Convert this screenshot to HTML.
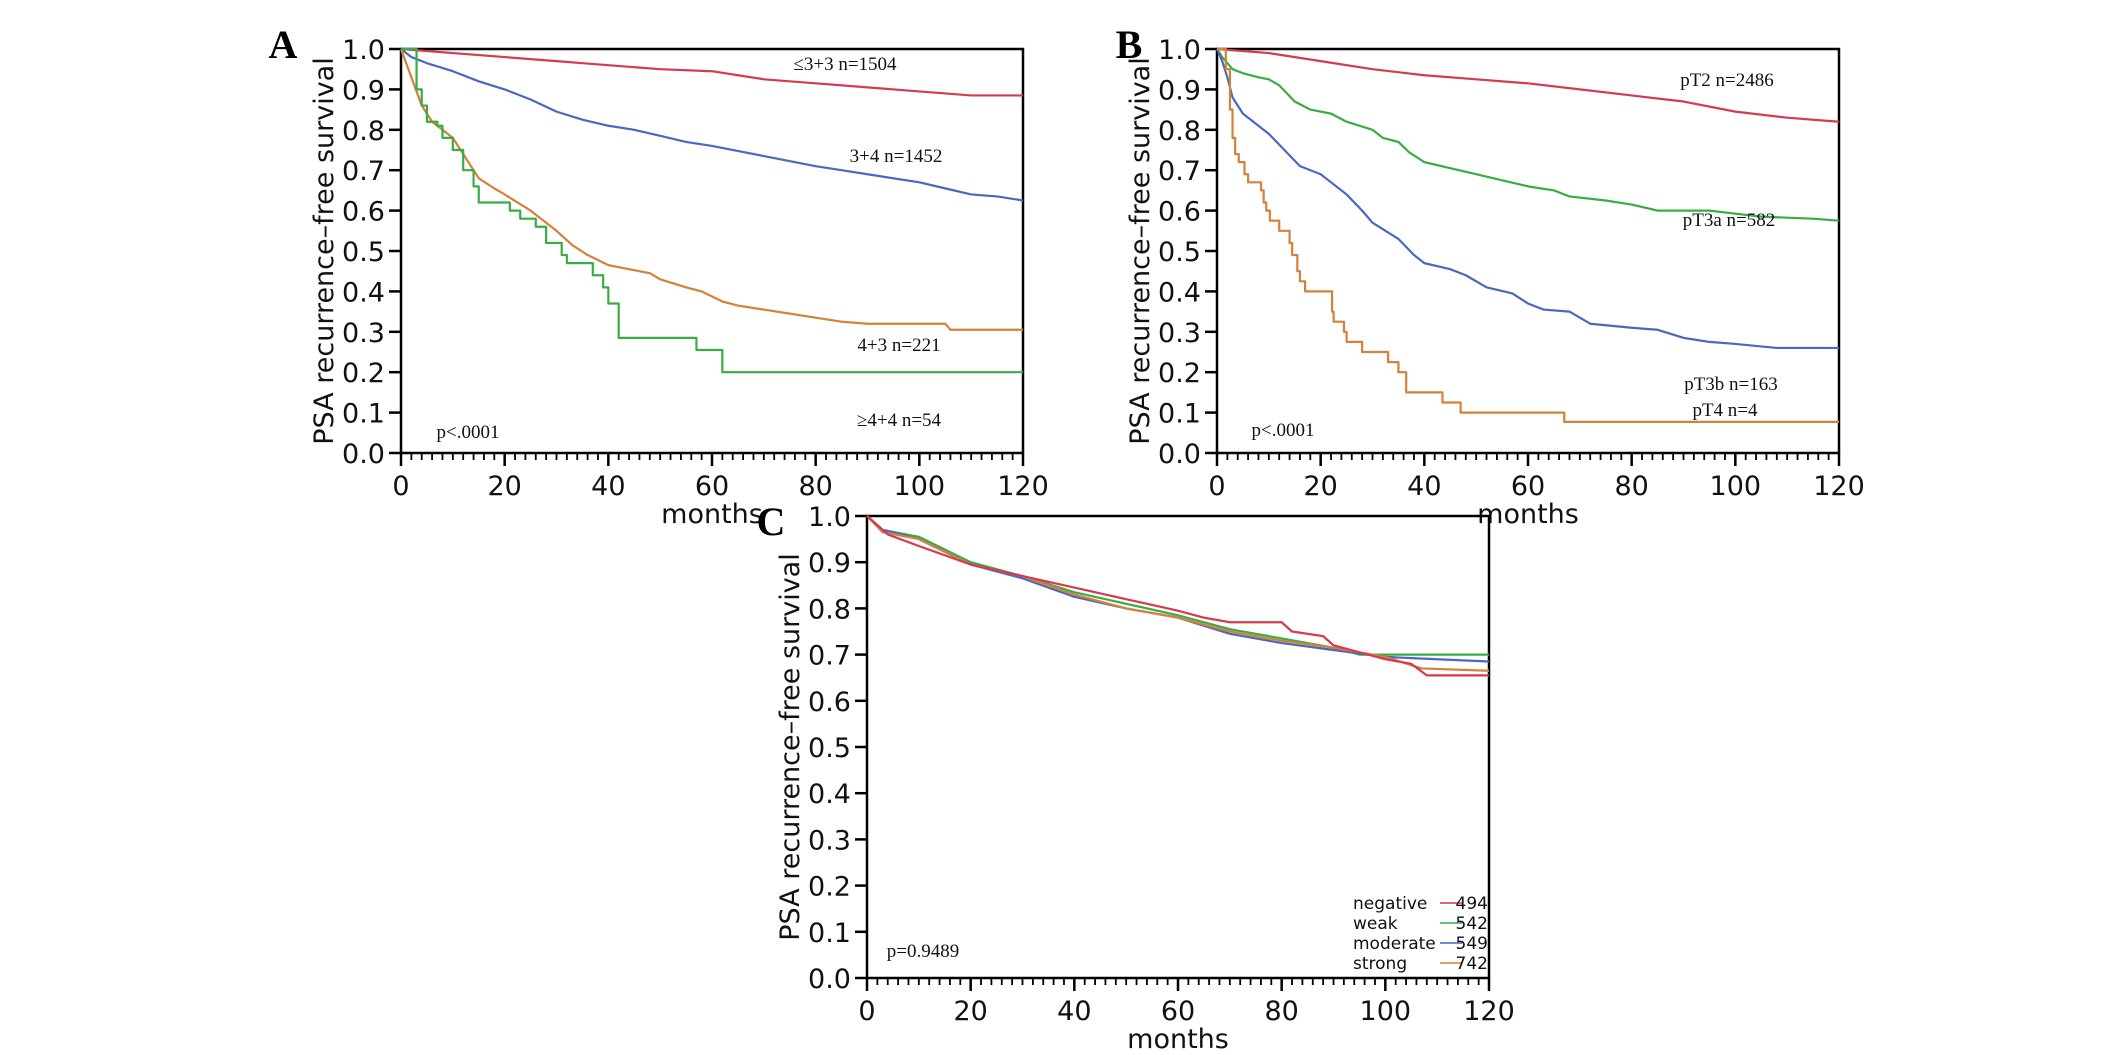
<!DOCTYPE html>
<html><head><meta charset="utf-8"><style>
html,body{margin:0;padding:0;background:#fff;}
svg{display:block;}
.tick{font-family:"DejaVu Sans","Liberation Sans",sans-serif;font-size:27px;fill:#111;}
.ttl{font-family:"DejaVu Sans","Liberation Sans",sans-serif;font-size:27px;fill:#111;}
.ann{font-family:"Liberation Serif",serif;font-size:19px;fill:#111;}
.leg{font-family:"DejaVu Sans","Liberation Sans",sans-serif;font-size:17px;fill:#111;}
.letter{font-family:"Liberation Serif",serif;font-size:40px;font-weight:bold;fill:#000;}
</style></head><body>
<svg id="fig" width="2126" height="1055" viewBox="0 0 2126 1055" xmlns="http://www.w3.org/2000/svg"></svg>
<script>
// ---- data ----
const aRedT=[0,10,20,30,40,50,60,65,70,80,90,100,105,110,120];
const aRedS=[1,0.99,0.98,0.97,0.96,0.95,0.945,0.935,0.925,0.915,0.905,0.895,0.89,0.885,0.885];
const aBlueT=[0,2,5,10,15,20,25,30,35,40,45,50,55,60,70,80,85,90,100,105,110,115,120];
const aBlueS=[1,0.98,0.965,0.945,0.92,0.9,0.875,0.845,0.825,0.81,0.8,0.785,0.77,0.76,0.735,0.71,0.70,0.69,0.67,0.655,0.64,0.635,0.625];
const aOrT=[0,2,4,6,8,10,12,15,18,20,25,28,30,33,36,40,44,48,50,55,58,62,65,70,75,80,85,90,105,106,120];
const aOrS=[1,0.93,0.86,0.82,0.80,0.78,0.74,0.68,0.655,0.64,0.60,0.57,0.55,0.515,0.49,0.465,0.455,0.445,0.43,0.41,0.40,0.375,0.365,0.355,0.345,0.335,0.325,0.32,0.32,0.305,0.305];
const aGrT=[0,3,4,5,7,8,10,12,14,15,21,23,26,28,31,32,37,39,40,42,57,62,120];
const aGrS=[1,0.9,0.86,0.82,0.81,0.78,0.75,0.7,0.66,0.62,0.60,0.58,0.56,0.52,0.49,0.47,0.44,0.41,0.37,0.285,0.255,0.2,0.2];
const bRedT=[0,10,20,30,40,50,60,70,80,90,100,110,120];
const bRedS=[1,0.99,0.97,0.95,0.935,0.925,0.915,0.90,0.885,0.87,0.845,0.83,0.82];
const bGrT=[0,1,3,5,8,10,12,15,18,22,25,30,32,35,37,40,45,50,55,60,65,68,75,80,85,95,105,115,120];
const bGrS=[1,0.98,0.95,0.94,0.93,0.925,0.91,0.87,0.85,0.84,0.82,0.8,0.78,0.77,0.745,0.72,0.705,0.69,0.675,0.66,0.65,0.635,0.625,0.615,0.6,0.6,0.585,0.58,0.575];
const bBlueT=[0,1,2,3,5,8,10,13,16,20,25,28,30,35,38,40,45,48,52,57,60,63,68,72,80,85,90,95,100,108,120];
const bBlueS=[1,0.97,0.93,0.88,0.84,0.81,0.79,0.75,0.71,0.69,0.64,0.6,0.57,0.53,0.49,0.47,0.455,0.44,0.41,0.395,0.37,0.355,0.35,0.32,0.31,0.305,0.285,0.275,0.27,0.26,0.26];
const bOrT=[0,1.7,2.5,3,3.5,4.2,5.3,6,8.5,9,9.5,10.2,12,14,14.5,15.5,16,17,22.2,22.5,24.5,25,28,33,35,36.5,43.5,47,67,120];
const bOrS=[1,0.95,0.85,0.78,0.74,0.72,0.69,0.67,0.65,0.62,0.6,0.575,0.55,0.52,0.49,0.45,0.425,0.40,0.35,0.325,0.3,0.275,0.25,0.225,0.2,0.15,0.125,0.1,0.077,0.077];
const cRedT=[0,2,4,10,20,30,40,50,60,65,70,80,82,88,90,95,100,105,108,120];
const cRedS=[1,0.98,0.96,0.935,0.895,0.87,0.845,0.82,0.795,0.78,0.77,0.77,0.75,0.74,0.72,0.705,0.69,0.68,0.655,0.655];
const cGrT=[0,3,10,20,30,40,50,60,70,80,90,95,120];
const cGrS=[1,0.97,0.955,0.9,0.87,0.835,0.81,0.785,0.755,0.735,0.715,0.70,0.70];
const cBlueT=[0,3,10,20,30,40,50,60,70,80,90,100,110,120];
const cBlueS=[1,0.97,0.95,0.895,0.865,0.825,0.8,0.78,0.745,0.725,0.71,0.695,0.69,0.685];
const cOrT=[0,3,10,20,30,40,50,60,70,80,90,100,107,120];
const cOrS=[1,0.965,0.95,0.895,0.87,0.83,0.80,0.78,0.75,0.73,0.715,0.695,0.67,0.665];
const yTickLabels=["0.0","0.1","0.2","0.3","0.4","0.5","0.6","0.7","0.8","0.9","1.0"];
const xTickLabels=["0","20","40","60","80","100","120"];
const legNames=["negative","weak","moderate","strong"];
const legCounts=["494","542","549","742"];

const RED="#d43a50",BLUE="#4a68c0",GREEN="#3aac46",ORANGE="#d5813a";
const NS="http://www.w3.org/2000/svg";
const fig=document.getElementById('fig');
function mk(tag,attrs,parent){const e=document.createElementNS(NS,tag);for(const k in attrs)e.setAttribute(k,attrs[k]);(parent||fig).appendChild(e);return e;}

function panel(id,x0,x1,y0,y1){
  const g=mk('g',{});
  
  
  const sx=t=>x0+(x1-x0)*t/120, sy=s=>y0-(y0-y1)*s;
  const frame=mk('rect',{x:x0,y:y1,width:x1-x0,height:y0-y1,fill:'none',stroke:'#000','stroke-width':2.5},g);
  
  
  for(let i=0;i<=10;i++){
    const y=sy(i/10);
    mk('line',{x1:x0-12,x2:x0,y1:y,y2:y,stroke:'#000','stroke-width':2.5},g);
    const t=mk('text',{x:x0-16,y:y+10,'text-anchor':'end',class:'tick'},g);
    t.textContent=yTickLabels[i];
    
    
  }
  for(let m=0;m<=120;m+=2){
    const x=sx(m), maj=m%20===0;
    mk('line',{x1:x,x2:x,y1:y0,y2:y0+(maj?13:7),stroke:'#000','stroke-width':maj?2.5:1.8},g);
    if(maj){
      const t=mk('text',{x:x,y:y0+42,'text-anchor':'middle',class:'tick'},g);
      t.textContent=xTickLabels[m/20];
      
      
    }
  }
  const xl=mk('text',{x:(x0+x1)/2,y:y0+70,'text-anchor':'middle',class:'ttl'},g);
  xl.textContent='months';
  
  
  const cy=(y0+y1)/2, cx=x0-68;
  const yl=mk('text',{x:cx,y:cy,'text-anchor':'middle',class:'ttl',transform:`rotate(-90 ${cx} ${cy})`},g);
  yl.textContent='PSA recurrence\u2013free survival';
  
  
  return {g,sx,sy};
}
function curve(p,T,S,color,step,name){
  let d='M'+p.sx(T[0])+','+p.sy(S[0]);
  for(let i=1;i<T.length;i++){
    if(step){d+=' L'+p.sx(T[i])+','+p.sy(S[i-1])+' L'+p.sx(T[i])+','+p.sy(S[i]);}
    else d+=' L'+p.sx(T[i])+','+p.sy(S[i]);
  }
  const e=mk('path',{d:d,fill:'none',stroke:color,'stroke-width':2.2,'stroke-linejoin':'round'},p.g);
  
  
}
function txt(x,y,s,cls,name,anchor){
  const t=mk('text',{x:x,y:y,class:cls,'text-anchor':anchor||'middle'});
  t.textContent=s;
  
  
  return t;
}

const A=panel('a',401,1023,453,49);
curve(A,aRedT,aRedS,RED,false,'curve-gleason-3-3');
curve(A,aBlueT,aBlueS,BLUE,false,'curve-gleason-3-4');
curve(A,aOrT,aOrS,ORANGE,false,'curve-gleason-4-3');
curve(A,aGrT,aGrS,GREEN,true,'curve-gleason-4-4');
txt(845,70,'≤3+3 n=1504','ann','label-gleason-3-3');
txt(896,162,'3+4 n=1452','ann','label-gleason-3-4');
txt(899,351,'4+3 n=221','ann','label-gleason-4-3');
txt(899,426,'≥4+4 n=54','ann','label-gleason-4-4');
txt(468,438,'p<.0001','ann','p-value-a');
txt(283,58,'A','letter','panel-letter-a');

const B=panel('b',1217,1839,453,49);
curve(B,bRedT,bRedS,RED,false,'curve-pt2');
curve(B,bGrT,bGrS,GREEN,false,'curve-pt3a');
curve(B,bBlueT,bBlueS,BLUE,false,'curve-pt3b');
curve(B,bOrT,bOrS,ORANGE,true,'curve-pt4');
txt(1727,86,'pT2 n=2486','ann','label-pt2');
txt(1729,226,'pT3a n=582','ann','label-pt3a');
txt(1731,390,'pT3b n=163','ann','label-pt3b');
txt(1725,416,'pT4 n=4','ann','label-pt4');
txt(1283,436,'p<.0001','ann','p-value-b');
txt(1129,58,'B','letter','panel-letter-b');

const C=panel('c',867,1489,978,516);
curve(C,cGrT,cGrS,GREEN,false,'curve-weak');
curve(C,cBlueT,cBlueS,BLUE,false,'curve-moderate');
curve(C,cOrT,cOrS,ORANGE,false,'curve-strong');
curve(C,cRedT,cRedS,RED,false,'curve-negative');
txt(923,957,'p=0.9489','ann','p-value-c');
txt(771,535,'C','letter','panel-letter-c');
const legColors=[RED,GREEN,BLUE,ORANGE];
for(let i=0;i<4;i++){
  const y=909+i*20;
  txt(1353,y,legNames[i],'leg','legend-name','start');
  const ln=mk('line',{x1:1440,x2:1462,y1:y-6,y2:y-6,stroke:legColors[i],'stroke-width':1.5});
  
  
  txt(1488,y,legCounts[i],'leg','legend-count','end');
}
</script>
</body></html>
